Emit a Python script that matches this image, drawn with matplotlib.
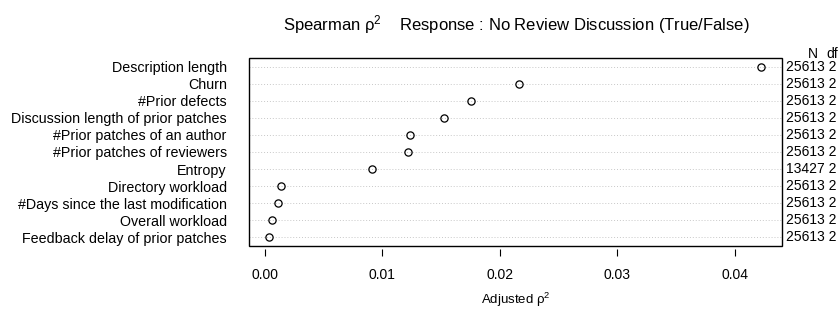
import numpy as np
import matplotlib
matplotlib.use('Agg')
from matplotlib import pyplot as plt
from matplotlib.patches import Rectangle
import matplotlib.transforms as mtransforms

plt.rcParams['font.family'] = ['Liberation Sans', 'DejaVu Sans']

# values listed top to bottom
labels = ['Description length', 'Churn', '#Prior defects',
          'Discussion length of prior patches', '#Prior patches of an author',
          '#Prior patches of reviewers', 'Entropy', 'Directory workload',
          '#Days since the last modification', 'Overall workload',
          'Feedback delay of prior patches']
rho2 = [0.04225, 0.02161, 0.01759, 0.01526, 0.01237, 0.01217,
        0.00917, 0.00138, 0.00115, 0.00067, 0.00038]
n_obs = [25613, 25613, 25613, 25613, 25613, 25613, 13427, 25613, 25613, 25613, 25613]
dfs = [2, 2, 2, 2, 2, 2, 2, 2, 2, 2, 2]
xticks = [0.00, 0.01, 0.02, 0.03, 0.04]

fig = plt.figure(figsize=(8.4, 3.11), dpi=100)
ax = fig.add_axes([249/840, 65/311, 533/840, 188/311])

n = len(labels)
ypos = np.arange(n, 0, -1)

ax.set_xlim(-0.00132, 0.0440)
ax.set_ylim(0.5, n + 0.5)

# dotted guide lines
ax.hlines(ypos, -0.00132, 0.0440, colors='#c8c8c8', linewidth=0.7,
          linestyles=(0, (1, 2)), zorder=1)
ax.plot(rho2, ypos, 'o', mfc='none', mec='black', ms=5.2, mew=0.9, zorder=3)

# box drawn separately so the x ticks can sit a little below it
for s in ax.spines.values():
    s.set_visible(False)
ax.add_patch(Rectangle((0, 0), 1, 1, transform=ax.transAxes, fill=False,
                       edgecolor='black', linewidth=1.0, clip_on=False, zorder=4))
ax.spines['bottom'].set_position(('outward', 2.2))

ax.set_xticks(xticks)
ax.set_xticklabels(['%.2f' % t for t in xticks], fontsize=10)
ax.tick_params(axis='x', direction='out', length=4.8, width=0.8, pad=9)

ax.set_yticks(ypos)
ax.set_yticklabels(labels, fontsize=10.3)
ax.tick_params(axis='y', length=0, pad=16)

trans = mtransforms.blended_transform_factory(ax.transAxes, ax.transData)
for y, nn, d in zip(ypos, n_obs, dfs):
    ax.text(1.0075, y, '%d %d' % (nn, d), transform=trans, fontsize=10,
            ha='left', va='center')
fig.text(812.5/840, 1 - 53.5/311, 'N', fontsize=10, ha='center', va='center')
fig.text(832/840, 1 - 53.5/311, 'df', fontsize=10, ha='center', va='center')

fig.text(516/840, 1 - 25/311,
         'Spearman $\\mathregular{\u03c1^2}$    Response : No Review Discussion (True/False)',
         fontsize=12, ha='center', va='center')
fig.text(516/840, 1 - 300/311, 'Adjusted $\\mathregular{\u03c1^2}$', fontsize=9.5,
         ha='center', va='center')

fig.savefig('out.png', dpi=100)
